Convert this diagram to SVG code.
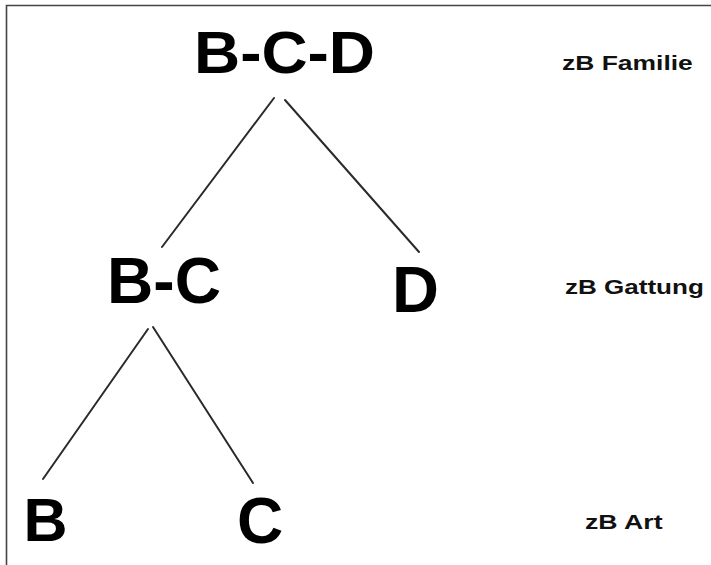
<svg xmlns="http://www.w3.org/2000/svg" width="711" height="565" viewBox="0 0 711 565">
  <style>
    .taxon { font-family: "Liberation Sans", Arial, sans-serif; font-weight: bold; fill: #000; }
    .rank { font-family: "Liberation Sans", Arial, sans-serif; font-weight: bold; font-size: 21px; fill: #111; }
    .edge { stroke: #2a2a2a; stroke-width: 2; stroke-linecap: round; fill: none; }
    .frame { stroke: #444; stroke-width: 1.6; fill: none; }
  </style>
  <rect width="711" height="565" fill="#fff"/>
  <!-- frame: top and left edges only -->
  <path class="frame" d="M6.5,565 V5.5 H711"/>

  <g id="connectors">
    <line class="edge" x1="274" y1="98" x2="162" y2="247"/>
    <line class="edge" x1="285" y1="100" x2="419" y2="252"/>
    <line class="edge" x1="148" y1="329" x2="43" y2="479"/>
    <line class="edge" x1="153" y1="327" x2="253" y2="483"/>
  </g>

  <g id="node-bcd"><text class="taxon" x="194" y="73" font-size="60" textLength="181" lengthAdjust="spacingAndGlyphs">B-C-D</text></g>
  <g id="node-bc"><text class="taxon" x="107" y="303" font-size="64" textLength="114" lengthAdjust="spacingAndGlyphs">B-C</text></g>
  <g id="node-d"><text class="taxon" x="392" y="312" font-size="65">D</text></g>
  <g id="node-b"><text class="taxon" x="23.5" y="541" font-size="61">B</text></g>
  <g id="node-c"><text class="taxon" x="237" y="543" font-size="64">C</text></g>

  <!-- rank labels, widened horizontally -->
  <g id="rank-labels">
    <text class="rank" transform="translate(562,69.5) scale(1.26,1)">zB Familie</text>
    <text class="rank" transform="translate(565,293.5) scale(1.24,1)">zB Gattung</text>
    <text class="rank" transform="translate(585,528.5) scale(1.27,1)">zB Art</text>
  </g>
</svg>
